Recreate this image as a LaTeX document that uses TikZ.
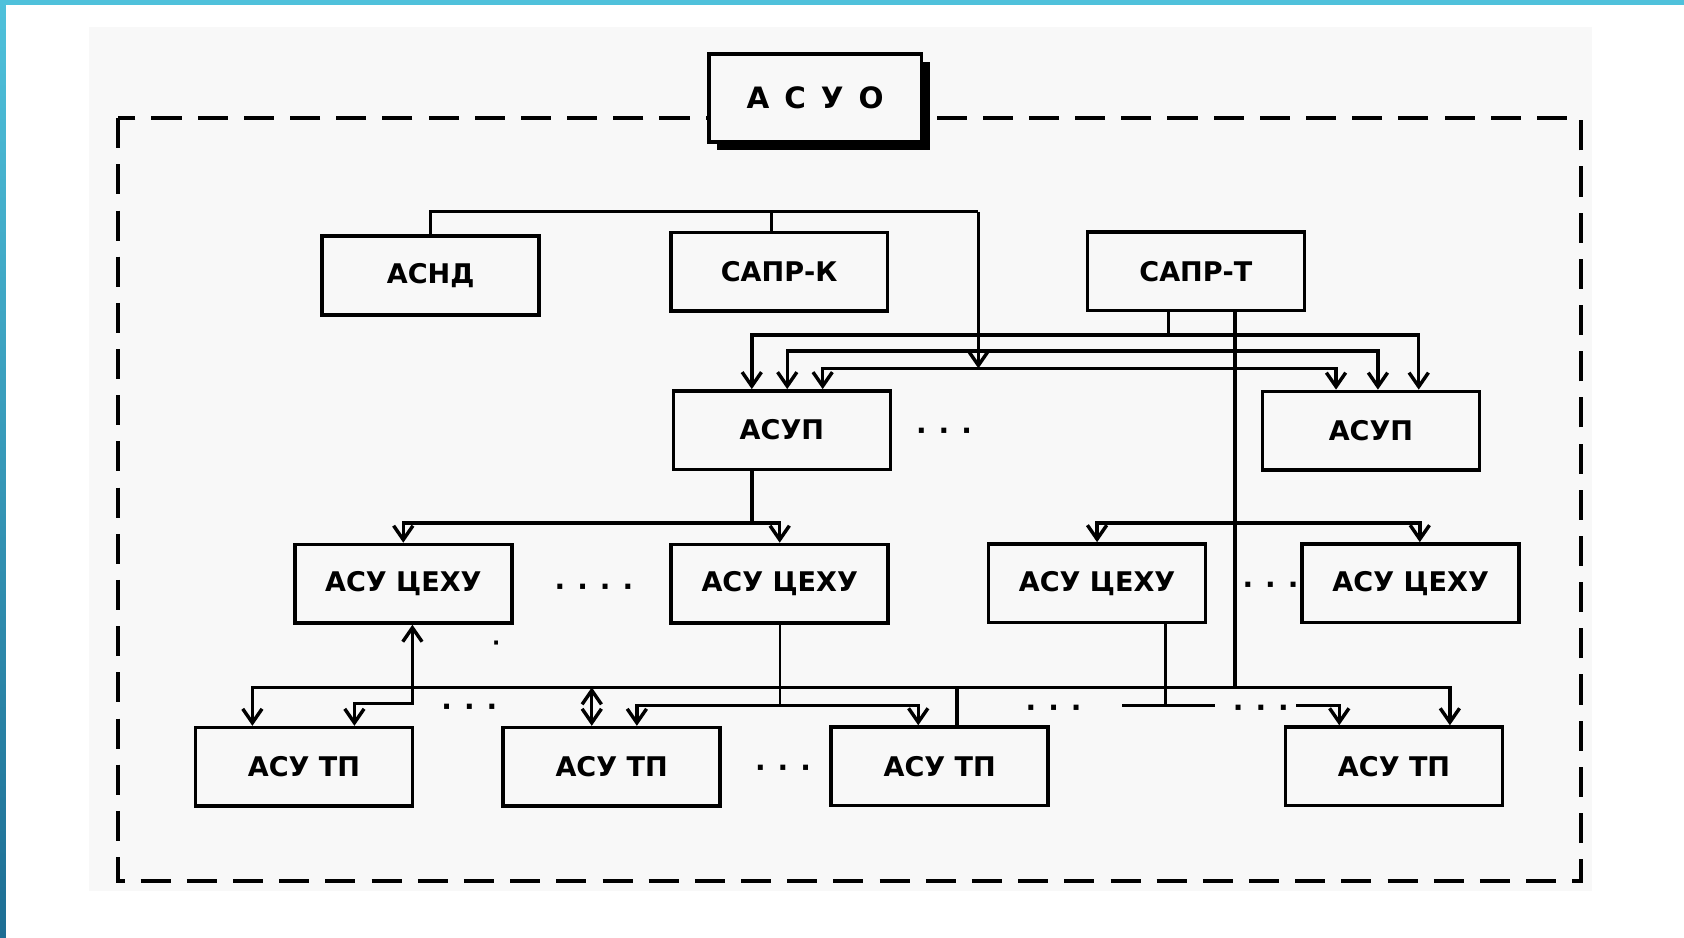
\documentclass[tikz,border=0pt]{standalone}
\usepackage{fontspec}
\setmainfont{DejaVu Sans}
\usetikzlibrary{arrows.meta,calc}
\definecolor{bgc}{HTML}{F8F8F8}
\definecolor{barc}{HTML}{4FC1DB}
\definecolor{bard}{HTML}{1D6E94}
\newcommand{\dd}{\hspace{5.6pt}}
\begin{document}
\begin{tikzpicture}[x=0.5pt,y=-0.5pt,
  box/.style={draw, line width=1.7pt, fill=bgc, minimum width=101pt, minimum height=36.5pt, inner sep=0pt, font=\bfseries\fontsize{12.6}{14}\selectfont},
  ln/.style={line width=1.6pt},
  arr/.style={ln, -{Straight Barb[length=6.5pt,width=9pt]}},
  arrb/.style={ln, {Straight Barb[length=6.5pt,width=9pt]}-{Straight Barb[length=6.5pt,width=9pt]}},
  dotsn/.style={font=\bfseries\fontsize{13}{14}\selectfont, inner sep=0pt, yshift=-2.2pt}]
\useasboundingbox (0,0) rectangle (1568,873);
\fill[white] (0,0) rectangle (1568,873);
\fill[bgc] (83,25) rectangle (1482,830);
\fill[barc] (0,0) rectangle (1568,4.5);
\shade[top color=barc, bottom color=bard] (0,0) rectangle (5.5,873);
% dashed frame
\draw[line width=1.8pt, dash pattern=on 14pt off 7.5pt] (110,110) rectangle (1472,820);
% ASUO
\fill[black] (668,58) rectangle (866,140);
\node[box, minimum width=99pt, minimum height=41pt, font=\bfseries\fontsize{13.7}{15}\selectfont] (asuo) at (759,91) {А\hspace{7pt}С\hspace{7pt}У\hspace{7pt}О};
% boxes
\node[box] (asnd) at (401,256.5) {АСНД};
\node[box] (sapk) at (725.5,253) {САПР-К};
\node[box] (sapt) at (1113.5,252.5) {САПР-Т};
\node[box] (asup1) at (728,400.5) {АСУП};
\node[box] (asup2) at (1276.5,401) {АСУП};
\node[box] (ceh1) at (375.5,543.5) {АСУ ЦЕХУ};
\node[box] (ceh2) at (726,543.5) {АСУ ЦЕХУ};
\node[box] (ceh3) at (1021.5,543) {АСУ ЦЕХУ};
\node[box] (ceh4) at (1313.5,543) {АСУ ЦЕХУ};
\node[box] (tp1) at (283,714) {АСУ ТП};
\node[box] (tp2) at (569.5,714) {АСУ ТП};
\node[box] (tp3) at (875,713.5) {АСУ ТП};
\node[box] (tp4) at (1298,713.5) {АСУ ТП};
% coordinates
\coordinate (tb) at (911,197);
\coordinate (ba) at (1088,312);
\coordinate (bb) at (1000,327);
\coordinate (bc) at (911,343);
\coordinate (cl) at (700,487);
\coordinate (cr) at (1150,487);
\coordinate (bm) at (1150,640);
\coordinate (bl2) at (726,657);
\coordinate (cj) at (384,655);
\coordinate (s1) at (1045,657);
\coordinate (s2) at (1131,657);
\coordinate (fr) at (1207,657);
\coordinate (sk) at ([xshift=-3.5pt]sapk.north);
\coordinate (pA1) at ([xshift=-14pt]asup1.north);
\coordinate (pB1) at ([xshift=2.5pt]asup1.north);
\coordinate (pC1) at ([xshift=19pt]asup1.north);
\coordinate (pA2) at ([xshift=22.25pt]asup2.north);
\coordinate (pB2) at ([xshift=3.25pt]asup2.north);
\coordinate (pC2) at ([xshift=-16.25pt]asup2.north);
\coordinate (st1) at ([xshift=-12.75pt]sapt.south);
\coordinate (st2) at ([xshift=18.25pt]sapt.south);
\coordinate (c4) at ([xshift=4.25pt]ceh4.north);
\coordinate (u1) at ([xshift=-14pt]asup1.south);
\coordinate (t1a) at ([xshift=-24pt]tp1.north);
\coordinate (t4a) at ([xshift=26pt]tp4.north);
\coordinate (t3b) at ([xshift=8pt]tp3.north);
\coordinate (c1b) at ([xshift=4.25pt]ceh1.south);
\coordinate (t1b) at ([xshift=23.5pt]tp1.north);
\coordinate (t2a) at ([xshift=-9.25pt]tp2.north);
\coordinate (t2b) at ([xshift=11.75pt]tp2.north);
\coordinate (t3a) at ([xshift=-10pt]tp3.north);
\coordinate (c3b) at ([xshift=31.75pt]ceh3.south);
\coordinate (t4b) at ([xshift=-25.5pt]tp4.north);
% top connectors
\draw[ln] (asnd.north) |- (tb);
\draw[ln] (sk) -- (sk |- tb);
\draw[arr] (tb) -- (bc);
\draw[arrb] (pA1) |- (ba) -| (pA2);
\draw[arrb] (pB1) |- (bb) -| (pB2);
\draw[arrb] (pC1) |- (bc) -| (pC2);
\draw[ln] (st1) -- (ba);
\draw[ln] (st2) -- (bm);
% shop level
\draw[arrb] (ceh3.north) |- (cr) -| (c4);
\draw[ln] (u1) -- (cl);
\draw[arrb] (ceh1.north) |- (cl) -| (ceh2.north);
% bottom level
\draw[arrb] (t1a) |- (bm) -| (t4a);
\draw[ln] (t3b) -- (t3b |- bm);
\draw[arrb] (c1b) -- (cj) -| (t1b);
\draw[arrb] (t2a |- bm) -- (t2a);
\draw[arrb] (t2b) |- (bl2) -| (t3a);
\draw[line width=0.8pt] (ceh2.south) -- (bl2);
\draw[ln] (c3b) -- (c3b |- s1);
\draw[ln] (s1) -- (s2);
\draw[arr] (fr) -| (t4b);
% dots
\node[dotsn] (d1) at (879,400) {·\dd·\dd·};
\node[dotsn] (d2) at (553,545) {·\dd·\dd·\dd·};
\node[dotsn] (d3) at (1183,543) {·\dd·\dd·};
\node[dotsn] (d4) at (729,714) {·\dd·\dd·};
\node[dotsn] (d5) at (437,657) {·\dd·\dd·};
\node[dotsn] (d6) at (981,658) {·\dd·\dd·};
\node[dotsn] (d7) at (1174,658) {·\dd·\dd·};
\node[dotsn, font=\bfseries\fontsize{10}{11}\selectfont] (d8) at (462,597) {·};
\end{tikzpicture}
\end{document}
